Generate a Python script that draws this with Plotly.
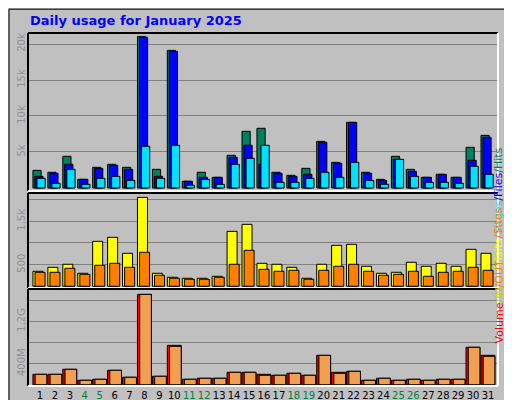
import plotly.graph_objects as go

days = list(range(1, 32))
weekend = [4, 5, 11, 12, 18, 19, 25, 26]
hits = [2450,2180,4400,1200,2870,3290,2870,21060,2590,19120,930,2180,1480,4540,7870,8290,
        2180,1760,2730,6480,3560,9120,2180,1200,4400,2590,1480,1900,1480,5650,7310]
files = [1620,2040,3290,1200,2730,3150,2590,20930,1620,18980,930,1480,1480,4260,5930,3290,
         2040,1620,1900,6340,3430,9120,2040,1060,3980,2310,1480,1900,1480,3840,7040]
pages = [1340,650,2590,510,1340,1620,1060,5790,1340,5930,370,1200,510,3290,4120,5930,
         790,790,1340,2180,1480,3560,1060,510,3980,1620,790,790,650,3010,1900]
visits = [346,438,508,300,1038,1131,762,2054,300,208,185,185,231,1269,1431,531,
          508,438,185,508,946,969,462,300,323,554,462,531,462,854,762]
sites = [323,323,415,277,485,531,438,785,254,185,162,162,208,508,831,392,
         346,369,162,369,462,508,346,254,277,346,231,323,346,438,369]
volume_mb = [198,198,293,85,104,274,142,1710,161,746,104,123,123,236,236,198,
             180,217,180,557,236,255,85,123,85,104,85,104,104,709,557]
out_mb = [198,198,293,85,104,274,142,1710,161,728,104,123,123,236,236,180,
          180,217,180,557,217,255,85,123,85,104,85,104,104,709,539]

tick_text = [f"<span style='color:#008040'>{d}</span>" if d in weekend else str(d) for d in days]

fig = go.Figure()
ln = dict(color="black", width=1)
def bar(y, color, off, w, xa, ya):
    fig.add_trace(go.Bar(x=days, y=y, marker=dict(color=color, line=ln), offset=off, width=w,
                         xaxis=xa, yaxis=ya, showlegend=False, hoverinfo="skip"))

bar(hits, "#00805c", -0.47, 0.55, "x", "y")
bar(files, "#0000ff", -0.34, 0.55, "x", "y")
bar(pages, "#00e0ff", -0.2, 0.55, "x", "y")
bar(visits, "#ffff00", -0.47, 0.67, "x2", "y2")
bar(sites, "#ff8000", -0.33, 0.67, "x2", "y2")
bar(volume_mb, "#ff0000", -0.47, 0.93, "x3", "y3")
bar(out_mb, "#f0a050", -0.32, 0.78, "x3", "y3")

xr = [0.2, 31.67]
xd = [20/512, 490/512]
grid = "#808080"
tf = dict(color="#909090", size=10, family="DejaVu Sans")
common_x = dict(range=xr, domain=xd, showgrid=False, zeroline=False, fixedrange=True)
fig.update_layout(
    width=512, height=400, margin=dict(l=0, r=0, t=0, b=0),
    paper_bgcolor="#c0c0c0", plot_bgcolor="#c0c0c0", barmode="overlay",
    xaxis=dict(**common_x, showticklabels=False, anchor="y"),
    xaxis2=dict(**common_x, showticklabels=False, anchor="y2"),
    xaxis3=dict(**common_x, anchor="y3", tickvals=days, ticktext=tick_text, ticks="",
                tickangle=0, ticklabelstandoff=2,
                tickfont=dict(color="black", size=10, family="DejaVu Sans")),
    yaxis=dict(domain=[1-183/400, 1-25/400], range=[-420, 21530], anchor="x",
               tickvals=[5000,10000,15000,20000], ticktext=["5k","10k","15k","20k"],
               tickangle=-90, tickfont=tf, showgrid=True, gridcolor=grid, zeroline=False),
    yaxis2=dict(domain=[1-280/400, 1-185/400], range=[-40, 2155], anchor="x2",
                tickvals=[500,1500], ticktext=["500","1,5k"], tickangle=-90, tickfont=tf,
                showgrid=True, gridcolor=grid, zeroline=False,
                minor=dict(tickvals=[1000,2000], showgrid=True, gridcolor=grid, ticks="")),
    yaxis3=dict(domain=[1-378/400, 1-281/400], range=[-23, 1812], anchor="x3",
                tickvals=[400,1200], ticktext=["400M","1,2G"], tickangle=-90, tickfont=tf,
                showgrid=True, gridcolor=grid, zeroline=False,
                minor=dict(tickvals=[800,1600], showgrid=True, gridcolor=grid, ticks="")),
)

shapes = []
for y0, y1 in [(183,25),(280,185),(378,281)]:
    a, b = 1-y0/400, 1-y1/400
    shapes += [
        dict(type="line", xref="paper", yref="paper", x0=xd[0], x1=xd[1], y0=b, y1=b, line=dict(color="black", width=2)),
        dict(type="line", xref="paper", yref="paper", x0=xd[0], x1=xd[0], y0=a, y1=b, line=dict(color="black", width=2)),
        dict(type="line", xref="paper", yref="paper", x0=xd[0], x1=xd[1], y0=a, y1=a, line=dict(color="white", width=2)),
        dict(type="line", xref="paper", yref="paper", x0=xd[1], x1=xd[1], y0=a, y1=b, line=dict(color="white", width=2)),
    ]
shapes += [
    dict(type="rect", xref="paper", yref="paper", x0=0.002, x1=0.998, y0=0.003, y1=0.997, line=dict(color="black", width=1)),
    dict(type="line", xref="paper", yref="paper", x0=0.99, x1=0.99, y0=0.01, y1=0.995, line=dict(color="#808080", width=4)),
    dict(type="line", xref="paper", yref="paper", x0=0.005, x1=0.99, y0=0.01, y1=0.01, line=dict(color="#808080", width=4)),
]
fig.update_layout(shapes=shapes)

f = dict(family="DejaVu Sans", size=11)
anns = [
    dict(x=20/512, y=1-13/400, xanchor="left", yanchor="middle", showarrow=False,
         text="<b>Daily usage for January 2025</b>", font=dict(family="DejaVu Sans", size=13, color="#0000ff")),
    dict(x=499/512, y=1-132/400, textangle=-90, showarrow=False, font=f,
         text="<span style='color:#00e0ff'>Pages</span><span style='color:#0000ff'>/Files</span><span style='color:#00805c'>/Hits_</span>"),
    dict(x=499/512, y=1-230/400, textangle=-90, showarrow=False, font=f,
         text="<span style='color:#ffff00'>Visits</span><span style='color:#ff8000'>/Sites</span>"),
    dict(x=499/512, y=1-338/400, textangle=-90, showarrow=False, font=f,
         text="<span style='color:#ff0000'>Volume</span><span style='color:#c8c800'>/IN</span><span style='color:#ff8000'>/OUT</span>"),
]
for a in anns:
    a.setdefault("xref", "paper"); a.setdefault("yref", "paper")
fig.update_layout(annotations=anns)
fig.write_html("out.html")
